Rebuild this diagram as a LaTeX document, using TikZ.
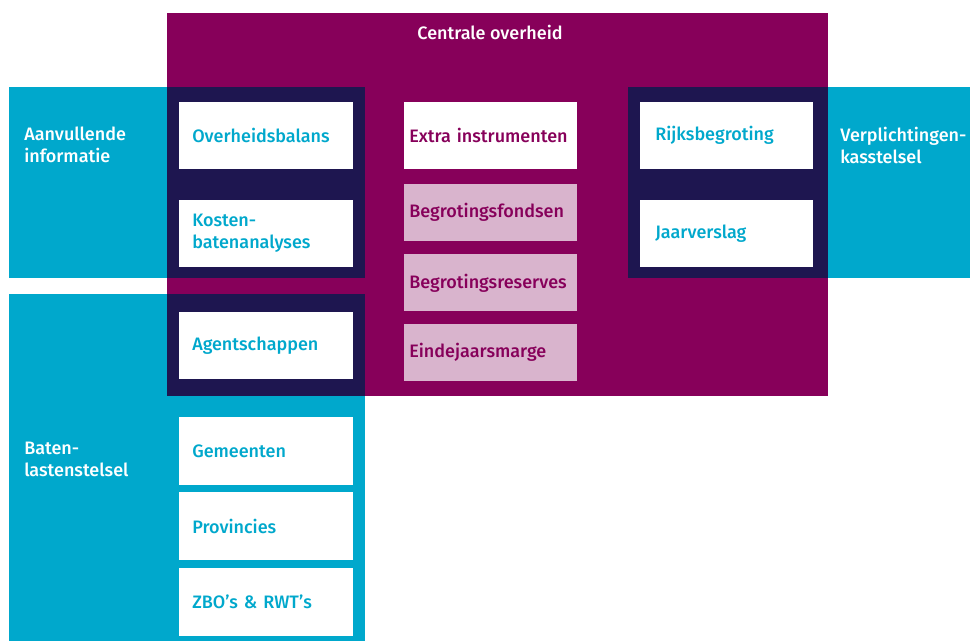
\documentclass[tikz,border=0pt]{standalone}
\usepackage{fontspec}
\setmainfont{Fira Sans}[UprightFont=* Medium]
\usetikzlibrary{positioning}
\definecolor{rijkpaars}{RGB}{135,0,90}
\definecolor{rijkcyaan}{RGB}{0,168,204}
\definecolor{rijknavy}{RGB}{30,22,80}
\definecolor{rijkroze}{RGB}{217,180,205}
\tikzset{
    cel/.style    = {fill=white, rectangle, anchor=north west, align=left, text=rijkcyaan,
                     inner xsep=9.75pt, text width=111pt, minimum height=50.25pt},
    instr/.style  = {cel, inner xsep=3.75pt, text width=122.25pt, text=rijkpaars},
    fonds/.style  = {instr, fill=rijkroze, minimum height=42.75pt},
    rijk/.style   = {cel, inner xsep=11.25pt, text width=107.25pt},
    etiket/.style = {anchor=west, align=left, text=white, inner sep=0pt}
}

\begin{document}
\begin{tikzpicture}[x=0.75pt, y=-0.75pt, font=\fontsize{13.5}{16.5}\selectfont]
    \useasboundingbox (0,0) rectangle (970,641);
    % vlakken
    \fill[rijkpaars] (167,13) rectangle (828,396);
    \fill[rijkcyaan] (9,87) rectangle (365,278);
    \fill[rijkcyaan] (9,294) rectangle (365,641);
    \fill[rijkcyaan] (628,87) rectangle (970,278);
    \fill[rijknavy] (167,87) rectangle (365,278);
    \fill[rijknavy] (167,294) rectangle (365,396);
    \fill[rijknavy] (628,87) rectangle (828,278);

    \node [etiket, anchor=center]              (centraal) at (490,32)  {Centrale overheid};
    \node [etiket]                             (aanv)     at (24,145)  {Aanvullende\\informatie};
    \node [etiket]                             (baten)    at (24,459)  {Baten-\\lastenstelsel};
    \node [etiket]                             (verpl)    at (840,145) {Verplichtingen-\\kasstelsel};

    \node [cel]                                (balans)   at (179,102) {Overheidsbalans};
    \node [cel, below=22.5pt of balans]        (kba)      {Kosten-\\batenanalyses};
    \node [cel]                                (agent)    at (179,312) {Agentschappen};
    \node [cel, minimum height=51pt, below=27.75pt of agent] (gem)  {Gemeenten};
    \node [cel, minimum height=51pt, below=5.25pt of gem]    (prov) {Provincies};
    \node [cel, minimum height=51pt, below=5.25pt of prov]   (zbo)  {ZBO’s \& RWT’s};

    \node [instr]                              (extra)    at (404,102) {Extra instrumenten};
    \node [fonds, below=10.5pt of extra]       (fondsen)  {Begrotingsfondsen};
    \node [fonds, below=9.75pt of fondsen]     (reserves) {Begrotingsreserves};
    \node [fonds, below=9pt of reserves]       (marge)    {Eindejaarsmarge};

    \node [rijk]                               (rijks)    at (640,102) {Rijksbegroting};
    \node [rijk, below=22.5pt of rijks]        (jaar)     {Jaarverslag};
\end{tikzpicture}
\end{document}
